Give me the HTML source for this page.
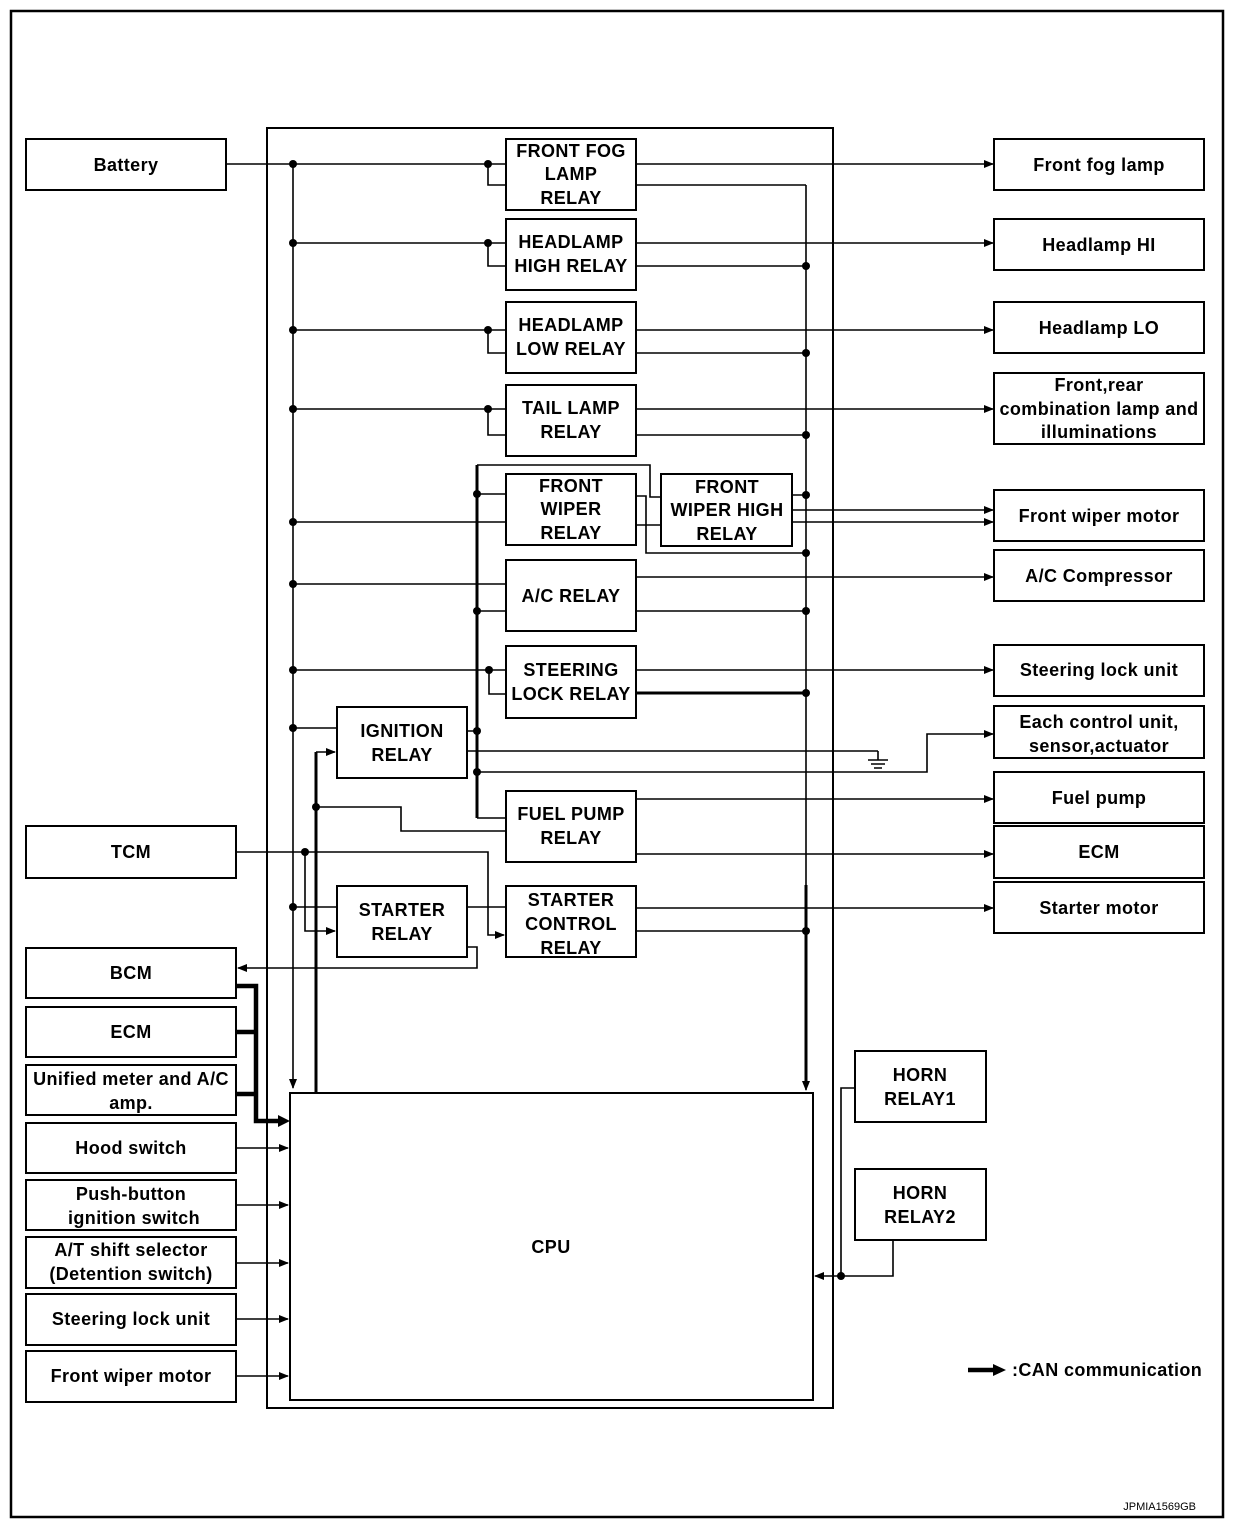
<!DOCTYPE html>
<html><head><meta charset="utf-8"><style>
body{margin:0;background:#fff}
svg{display:block}
text{font-family:"Liberation Sans",sans-serif;font-size:18px;letter-spacing:0.4px;font-weight:bold;fill:#000;text-anchor:middle}
</style></head><body>
<svg width="1248" height="1534" viewBox="0 0 1248 1534" xmlns="http://www.w3.org/2000/svg">
<defs>
<marker id="a" markerWidth="10" markerHeight="8" refX="9" refY="4" orient="auto" markerUnits="userSpaceOnUse"><path d="M0,0 L10,4 L0,8 z" fill="#000"/></marker>
</defs>
<rect x="11" y="11" width="1212" height="1506" fill="none" stroke="#000" stroke-width="2.5"/>
<g fill="none" stroke="#000" stroke-width="2">
<rect x="267" y="128" width="566" height="1280"/>
<rect x="290" y="1093" width="523" height="307"/>
<rect x="506" y="139" width="130" height="71"/>
<rect x="506" y="219" width="130" height="71"/>
<rect x="506" y="302" width="130" height="71"/>
<rect x="506" y="385" width="130" height="71"/>
<rect x="506" y="474" width="130" height="71"/>
<rect x="661" y="474" width="131" height="72"/>
<rect x="506" y="560" width="130" height="71"/>
<rect x="506" y="646" width="130" height="72"/>
<rect x="337" y="707" width="130" height="71"/>
<rect x="506" y="791" width="130" height="71"/>
<rect x="337" y="886" width="130" height="71"/>
<rect x="506" y="886" width="130" height="71"/>
<rect x="855" y="1051" width="131" height="71"/>
<rect x="855" y="1169" width="131" height="71"/>
<rect x="994" y="139" width="210" height="51"/>
<rect x="994" y="219" width="210" height="51"/>
<rect x="994" y="302" width="210" height="51"/>
<rect x="994" y="373" width="210" height="71"/>
<rect x="994" y="490" width="210" height="51"/>
<rect x="994" y="550" width="210" height="51"/>
<rect x="994" y="645" width="210" height="51"/>
<rect x="994" y="706" width="210" height="52"/>
<rect x="994" y="772" width="210" height="51"/>
<rect x="994" y="826" width="210" height="52"/>
<rect x="994" y="882" width="210" height="51"/>
<rect x="26" y="139" width="200" height="51"/>
<rect x="26" y="826" width="210" height="52"/>
<rect x="26" y="948" width="210" height="50"/>
<rect x="26" y="1007" width="210" height="50"/>
<rect x="26" y="1065" width="210" height="50"/>
<rect x="26" y="1123" width="210" height="50"/>
<rect x="26" y="1180" width="210" height="50"/>
<rect x="26" y="1237" width="210" height="51"/>
<rect x="26" y="1294" width="210" height="51"/>
<rect x="26" y="1351" width="210" height="51"/>
</g>
<g fill="none" stroke="#000" stroke-width="1.6">
<path d="M293,164 V1088" marker-end="url(#a)"/>
<path d="M806,185 V1090" marker-end="url(#a)"/>
<path d="M226,164 H506 M488,164 V185 H506 M636,185 H806"/>
<path d="M636,164 H993" marker-end="url(#a)"/>
<path d="M293,243 H506 M488,243 V266 H506 M636,266 H806"/>
<path d="M636,243 H993" marker-end="url(#a)"/>
<path d="M293,330 H506 M488,330 V353 H506 M636,353 H806"/>
<path d="M636,330 H993" marker-end="url(#a)"/>
<path d="M293,409 H506 M488,409 V435 H506 M636,435 H806"/>
<path d="M636,409 H993" marker-end="url(#a)"/>
<path d="M477,465 H650 V497 H661 M477,494 H506 M293,522 H506"/>
<path d="M636,496 H646 V553 H806 M636,525 H661 M792,495 H806"/>
<path d="M792,510 H993" marker-end="url(#a)"/>
<path d="M792,522 H993" marker-end="url(#a)"/>
<path d="M293,584 H506 M477,611 H506 M636,611 H806"/>
<path d="M636,577 H993" marker-end="url(#a)"/>
<path d="M293,670 H506 M489,670 V694 H506"/>
<path d="M636,670 H993" marker-end="url(#a)"/>
<path d="M293,728 H337 M467,731 H477 M467,751 H878 M477,772 H927 V734 H993" marker-end="url(#a)"/>
<path d="M316,752 H335" marker-end="url(#a)"/>
<path d="M477,818 H506 M506,831 H401 V807 H316"/>
<path d="M636,799 H993" marker-end="url(#a)"/>
<path d="M636,854 H993" marker-end="url(#a)"/>
<path d="M236,852 H488 V935 H504" marker-end="url(#a)"/>
<path d="M305,852 V931 H335" marker-end="url(#a)"/>
<path d="M293,907 H337 M467,907 H506 M636,931 H806"/>
<path d="M467,947 H477 V968 H238" marker-end="url(#a)"/>
<path d="M636,908 H993" marker-end="url(#a)"/>
<path d="M236,1148 H288" marker-end="url(#a)"/>
<path d="M236,1205 H288" marker-end="url(#a)"/>
<path d="M236,1263 H288" marker-end="url(#a)"/>
<path d="M236,1319 H288" marker-end="url(#a)"/>
<path d="M236,1376 H288" marker-end="url(#a)"/>
<path d="M855,1088 H841 V1276 M893,1240 V1276 H815" marker-end="url(#a)"/>
<path d="M878,751 V760 M868,760 H888 M871,764 H885 M874,768 H882"/>
</g>
<g fill="none" stroke="#000" stroke-width="3">
<path d="M477,465 V818"/>
<path d="M316,752 V1093"/>
<path d="M636,693 H806"/>
<path d="M806,885 V1085"/>
</g>
<g fill="none" stroke="#000" stroke-width="4.5">
<path d="M236,986 H256 V1121 H280 M236,1032 H256 M236,1094 H256"/>
<path d="M968,1370 H995"/>
</g>
<path d="M278,1115 L290,1121 L278,1127 z M993,1364 L1006,1370 L993,1376 z"/>
<g fill="#000">
<circle cx="293" cy="164" r="4"/><circle cx="488" cy="164" r="4"/>
<circle cx="293" cy="243" r="4"/><circle cx="488" cy="243" r="4"/><circle cx="806" cy="266" r="4"/>
<circle cx="293" cy="330" r="4"/><circle cx="488" cy="330" r="4"/><circle cx="806" cy="353" r="4"/>
<circle cx="293" cy="409" r="4"/><circle cx="488" cy="409" r="4"/><circle cx="806" cy="435" r="4"/>
<circle cx="477" cy="494" r="4"/><circle cx="293" cy="522" r="4"/><circle cx="806" cy="495" r="4"/><circle cx="806" cy="553" r="4"/>
<circle cx="293" cy="584" r="4"/><circle cx="477" cy="611" r="4"/><circle cx="806" cy="611" r="4"/>
<circle cx="293" cy="670" r="4"/><circle cx="489" cy="670" r="4"/><circle cx="806" cy="693" r="4"/>
<circle cx="293" cy="728" r="4"/><circle cx="477" cy="731" r="4"/><circle cx="477" cy="772" r="4"/>
<circle cx="316" cy="807" r="4"/><circle cx="305" cy="852" r="4"/><circle cx="293" cy="907" r="4"/><circle cx="806" cy="931" r="4"/>
<circle cx="841" cy="1276" r="4"/>
</g>
<g>
<text x="571" y="157">FRONT FOG</text><text x="571" y="180">LAMP</text><text x="571" y="204">RELAY</text>
<text x="571" y="248">HEADLAMP</text><text x="571" y="272">HIGH RELAY</text>
<text x="571" y="331">HEADLAMP</text><text x="571" y="355">LOW RELAY</text>
<text x="571" y="414">TAIL LAMP</text><text x="571" y="438">RELAY</text>
<text x="571" y="492">FRONT</text><text x="571" y="515">WIPER</text><text x="571" y="539">RELAY</text>
<text x="727" y="493">FRONT</text><text x="727" y="516">WIPER HIGH</text><text x="727" y="540">RELAY</text>
<text x="571" y="602">A/C RELAY</text>
<text x="571" y="676">STEERING</text><text x="571" y="700">LOCK RELAY</text>
<text x="402" y="737">IGNITION</text><text x="402" y="761">RELAY</text>
<text x="571" y="820">FUEL PUMP</text><text x="571" y="844">RELAY</text>
<text x="402" y="916">STARTER</text><text x="402" y="940">RELAY</text>
<text x="571" y="906">STARTER</text><text x="571" y="930">CONTROL</text><text x="571" y="954">RELAY</text>
<text x="920" y="1081">HORN</text><text x="920" y="1105">RELAY1</text>
<text x="920" y="1199">HORN</text><text x="920" y="1223">RELAY2</text>
<text x="551" y="1253">CPU</text>
<text x="1099" y="171">Front fog lamp</text>
<text x="1099" y="251">Headlamp HI</text>
<text x="1099" y="334">Headlamp LO</text>
<text x="1099" y="391">Front,rear</text><text x="1099" y="415">combination lamp and</text><text x="1099" y="438">illuminations</text>
<text x="1099" y="522">Front wiper motor</text>
<text x="1099" y="582">A/C Compressor</text>
<text x="1099" y="728">Each control unit,</text><text x="1099" y="752">sensor,actuator</text>
<text x="1099" y="676">Steering lock unit</text>
<text x="1099" y="804">Fuel pump</text>
<text x="1099" y="858">ECM</text>
<text x="1099" y="914">Starter motor</text>
<text x="126" y="171">Battery</text>
<text x="131" y="858">TCM</text>
<text x="131" y="979">BCM</text>
<text x="131" y="1038">ECM</text>
<text x="131" y="1085">Unified meter and A/C</text><text x="131" y="1109">amp.</text>
<text x="131" y="1154">Hood switch</text>
<text x="131" y="1200">Push-button</text><text x="134" y="1224">ignition switch</text>
<text x="131" y="1256">A/T shift selector</text><text x="131" y="1280">(Detention switch)</text>
<text x="131" y="1325">Steering lock unit</text>
<text x="131" y="1382">Front wiper motor</text>
<text x="1012" y="1376" style="text-anchor:start">:CAN communication</text>
<text x="1196" y="1510" style="text-anchor:end;font-size:11px;font-weight:normal;letter-spacing:0">JPMIA1569GB</text>
</g>
</svg>
</body></html>
